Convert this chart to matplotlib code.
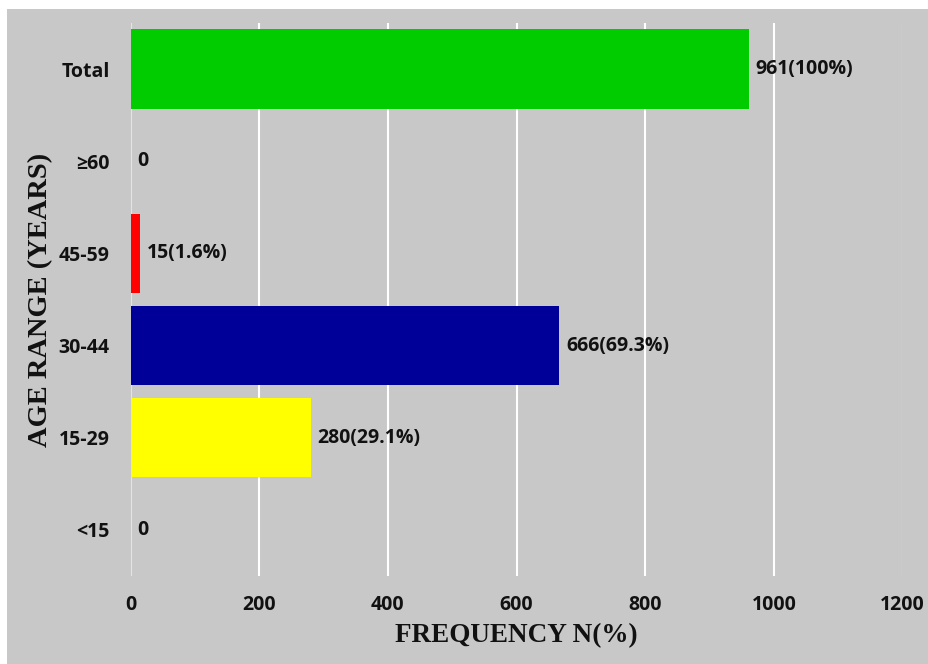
import matplotlib.pyplot as plt
from matplotlib.patches import Rectangle

# Age distribution of respondents
categories = ["<15", "15-29", "30-44", "45-59", "≥60", "Total"]
counts = [0, 280, 666, 15, 0, 961]
labels = ["0", "280(29.1%)", "666(69.3%)", "15(1.6%)", "0", "961(100%)"]
colors = ["#808080", "#ffff00", "#000099", "#ff0000", "#808080", "#00cc00"]
xticks = [0, 200, 400, 600, 800, 1000, 1200]

fig = plt.figure(figsize=(9.29, 6.64), dpi=100, facecolor="white")

# gray chart area with a thin white margin on the top and left
fig.patches.append(Rectangle((7 / 929, 0), 1, (664 - 9) / 664,
                             transform=fig.transFigure, facecolor="#c8c8c8",
                             edgecolor="none", zorder=-10))

ax = fig.add_axes([130.5 / 929, 88 / 664, 772 / 929, 553 / 664])
ax.set_facecolor("none")

y = list(range(len(categories)))
ax.barh(y, counts, height=0.86, color=colors, zorder=3)

tick_font = dict(family=["Open Sans", "DejaVu Sans"], weight="bold", size=14)
for yi, v, lab in zip(y, counts, labels):
    ax.annotate(lab, (v, yi), xytext=(7, 0), textcoords="offset pixels",
                va="center", ha="left", color="#111111", zorder=4, **tick_font)

ax.set_xlim(0, 1200)
ax.set_ylim(-0.5, len(categories) - 0.5)
ax.set_xticks(xticks)
ax.set_xticklabels([str(t) for t in xticks], **tick_font)
ax.set_yticks(y)
ax.set_yticklabels(categories, **tick_font)
ax.tick_params(axis="both", length=0, colors="#111111")
ax.tick_params(axis="x", pad=14)
ax.tick_params(axis="y", pad=15)

for t in xticks:
    ax.axvline(t, color="white" if t else "#e4e4e4", linewidth=1.5, zorder=1)

for s in ax.spines.values():
    s.set_visible(False)

label_font = dict(family=["Liberation Serif", "DejaVu Serif"], weight="bold",
                  color="#111111")
ax.set_xlabel("FREQUENCY N(%)", va="center", size=19.5, **label_font)
ax.set_ylabel("AGE RANGE (YEARS)", va="center", size=20.5, **label_font)
ax.xaxis.set_label_coords(0.5, -60 / 553)
ax.yaxis.set_label_coords((41 - 130.5) / 772, 0.5)

fig.savefig("out.png", dpi=100, facecolor="white")
